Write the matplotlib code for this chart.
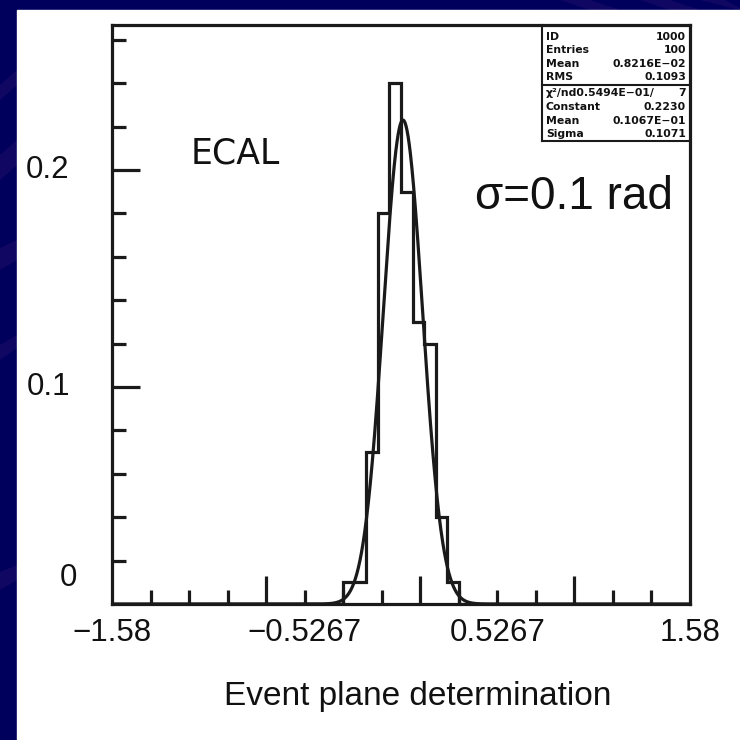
import numpy as np
import matplotlib
matplotlib.use("Agg")
import matplotlib.pyplot as plt
from matplotlib.patches import Rectangle, Polygon
from matplotlib.transforms import blended_transform_factory

# ---- histogram contents (fraction of entries per bin) ----
x_min, x_max = -1.58, 1.58
n_bins = 50
first_filled_bin = 20
filled_values = [0.01, 0.01, 0.07, 0.18, 0.24, 0.19, 0.13, 0.12, 0.04, 0.01]

# ---- gaussian fit parameters ----
fit_constant = 0.2230
fit_mean = 0.01067
fit_sigma = 0.1071

# ---- axis labelling ----
x_label_values = [-1.58, -0.5267, 0.5267, 1.58]
x_label_texts = ["\u22121.58", "\u22120.5267", "0.5267", "1.58"]
y_label_values = [0.1, 0.2]
y_label_texts = ["0.1", "0.2"]
y_top = 0.2668

# ---- statistics box ----
stats_top = [("ID", "1000"), ("Entries", "100"), ("Mean", "0.8216E\u221202"), ("RMS", "0.1093")]
stats_fit = [("Constant", "0.2230"), ("Mean", "0.1067E\u221201"), ("Sigma", "0.1071")]

W = H = 740
fig = plt.figure(figsize=(7.4, 7.4), dpi=100)

# slide background: navy frame with faint purple streaks
fig.patches.append(Rectangle((0, 0), 1, 1, transform=fig.transFigure,
                             color="#00005c", zorder=-10))
streaks = [
    [(0, 640), (17, 655), (17, 670), (0, 655)],
    [(0, 560), (17, 575), (17, 600), (0, 585)],
    [(0, 470), (17, 480), (17, 500), (0, 492)],
    [(0, 380), (17, 392), (17, 405), (0, 395)],
    [(0, 150), (17, 160), (17, 175), (0, 168)],
    [(560, 740), (590, 740), (620, 730), (590, 730)],
    [(640, 740), (670, 740), (700, 730), (670, 730)],
    [(700, 740), (725, 740), (740, 732), (740, 730)],
]
for pts in streaks:
    fig.patches.append(Polygon([(px / W, py / H) for px, py in pts],
                               closed=True, transform=fig.transFigure,
                               color="#1c0c68", alpha=0.6, zorder=-9, lw=0))
fig.patches.append(Rectangle((17 / W, 0), 1 - 17 / W, 1 - 10 / H,
                             transform=fig.transFigure, color="white", zorder=-8))

ax_left, ax_right, ax_top, ax_bottom = 112, 690, 25, 604
ax = fig.add_axes([ax_left / W, 1 - ax_bottom / H,
                   (ax_right - ax_left) / W, (ax_bottom - ax_top) / H])
ax.set_facecolor("none")

edges = np.linspace(x_min, x_max, n_bins + 1)
values = np.zeros(n_bins)
values[first_filled_bin:first_filled_bin + len(filled_values)] = filled_values
ax.stairs(values, edges, color="#1a1a1a", lw=2.3, baseline=0)

xs = np.linspace(x_min, x_max, 1500)
ax.plot(xs, fit_constant * np.exp(-0.5 * ((xs - fit_mean) / fit_sigma) ** 2),
        color="#1a1a1a", lw=2.3)

ax.set_xlim(x_min, x_max)
ax.set_ylim(0, y_top)
for s in ax.spines.values():
    s.set_linewidth(2.3)
    s.set_color("#1a1a1a")

# x ticks: 15 divisions, long marks every fourth
step = (x_max - x_min) / 15
x_div = [x_min + k * step for k in range(1, 15)]
ax.set_xticks([v for k, v in enumerate(x_div, start=1) if k % 4 == 0])
ax.set_xticks([v for k, v in enumerate(x_div, start=1) if k % 4 != 0], minor=True)
ax.set_yticks([0.1, 0.2])
ax.set_yticks([v for v in np.arange(0.02, 0.27, 0.02)
               if abs(v - 0.1) > 1e-6 and abs(v - 0.2) > 1e-6], minor=True)
ax.tick_params(which="both", direction="in", width=2.3, color="#1a1a1a",
               labelbottom=False, labelleft=False, top=False, right=False)
ax.tick_params(which="major", length=20)
ax.tick_params(which="minor", length=10)

tick_font = dict(family="Liberation Sans", fontsize=22.5, color="#111111")
tx = blended_transform_factory(ax.transData, fig.transFigure)
for v, t in zip(x_label_values, x_label_texts):
    ax.text(v, 1 - 633 / H, t, transform=tx, ha="center", va="center", **tick_font)
ty = blended_transform_factory(fig.transFigure, ax.transData)
for v, t in zip(y_label_values, y_label_texts):
    ax.text(48 / W, v, t, transform=ty, ha="center", va="center", **tick_font)
ax.text(68 / W, 1 - 578 / H, "0", transform=fig.transFigure, ha="center",
        va="center", **tick_font)

fig.text(235 / W, 1 - 154 / H, "ECAL", family="DejaVu Sans", fontsize=25,
         ha="center", va="center", color="#111111")
fig.text(574 / W, 1 - 197 / H, "\u03c3=0.1 rad", family="Liberation Sans",
         fontsize=33, ha="center", va="center", color="#111111")
fig.text(418 / W, 1 - 696 / H, "Event plane determination",
         family="Liberation Sans", fontsize=24, ha="center", va="center",
         color="#111111")

# statistics box
bx0, bx1, by0, by1, by_div = 542, 690, 25, 141, 85
box_kw = dict(transform=fig.transFigure, color="#1a1a1a", lw=1.5)
fig.add_artist(plt.Line2D([bx0 / W, bx0 / W], [1 - by0 / H, 1 - by1 / H], **box_kw))
fig.add_artist(plt.Line2D([bx0 / W, bx1 / W], [1 - by1 / H, 1 - by1 / H], **box_kw))
fig.add_artist(plt.Line2D([bx0 / W, bx1 / W], [1 - by_div / H, 1 - by_div / H], **box_kw))
sfont = dict(family="DejaVu Sans", fontsize=7.8, fontweight="bold", color="#111111")
row_y = [37, 50, 64, 77]
for (name, val), yy in zip(stats_top, row_y):
    fig.text(546 / W, 1 - yy / H, name, ha="left", va="center", **sfont)
    fig.text(686 / W, 1 - yy / H, val, ha="right", va="center", **sfont)
fig.text(546 / W, 1 - 93 / H, "\u03c7\u00b2/nd0.5494E\u221201/", ha="left", va="center",
         **sfont)
fig.text(686 / W, 1 - 93 / H, "7", ha="right", va="center", **sfont)
for (name, val), yy in zip(stats_fit, [107, 121, 134]):
    fig.text(546 / W, 1 - yy / H, name, ha="left", va="center", **sfont)
    fig.text(686 / W, 1 - yy / H, val, ha="right", va="center", **sfont)

fig.savefig("out.png", dpi=100)
